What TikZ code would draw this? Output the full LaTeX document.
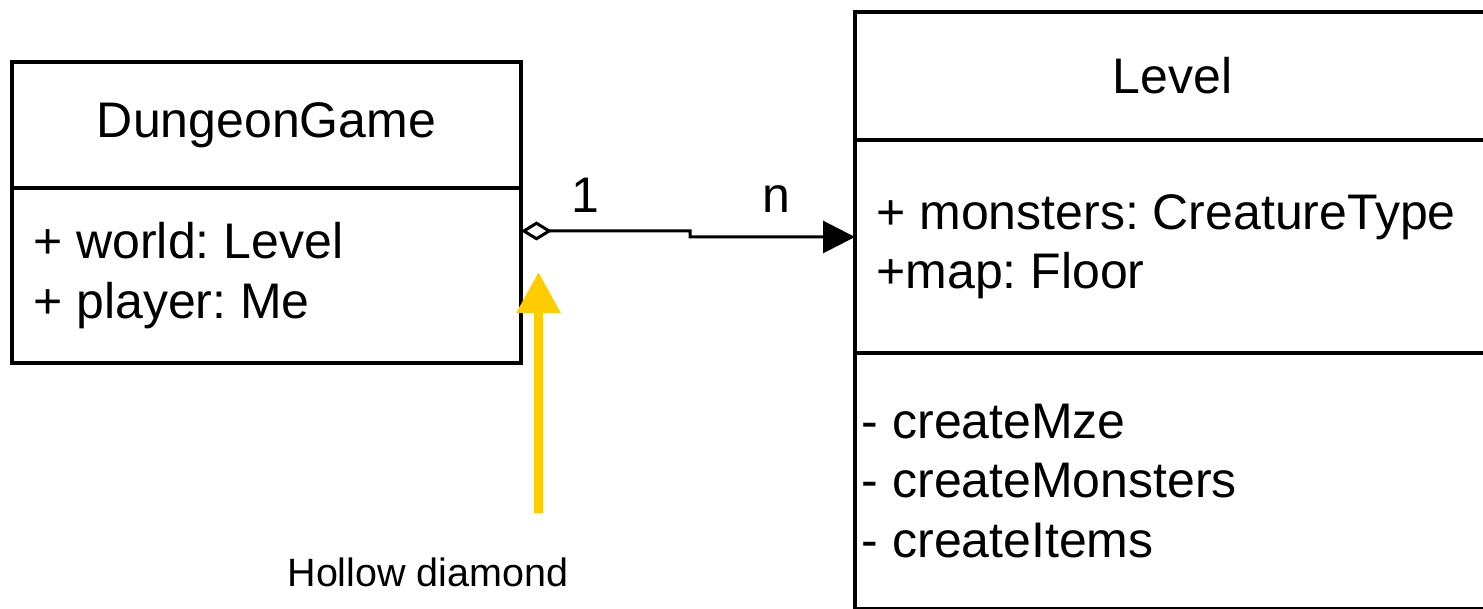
\documentclass[tikz,border=0pt]{standalone}
\usepackage{fontspec}
\setmainfont{Liberation Sans}
\usetikzlibrary{positioning, arrows.meta}
\definecolor{pointeryellow}{RGB}{255,204,0}
\frenchspacing

\begin{document}
\begin{tikzpicture}
\tikzstyle{compart} = [rectangle, draw=black, line width=0.07cm, outer sep=0pt, inner sep=0pt, font=\fontsize{1cm}{1.18cm}\selectfont]
\tikzstyle{members} = [inner sep=0pt, align=left, font=\fontsize{1cm}{1.19cm}\selectfont]
\tikzstyle{mult} = [inner sep=0pt, font=\fontsize{1cm}{1.2cm}\selectfont]
\tikzstyle{aggr} = [line width=0.06cm, arrows={Diamond[open, length=0.62cm, width=0.38cm]-Triangle[length=0.64cm, width=0.64cm]}]
\tikzstyle{pointer} = [line width=0.18cm, draw=pointeryellow, arrows={-Triangle[length=0.82cm, width=0.84cm]}]
\tikzstyle{caption} = [inner sep=0pt, font=\fontsize{0.79cm}{0.95cm}\selectfont]

\path [use as bounding box, clip] (0,0) rectangle (29.66,12.18);

%DungeonGame class
\node (DGhead) [compart, minimum width=10.18cm, minimum height=2.52cm] at (5.33,9.68) {DungeonGame};
\node (DGattr) [compart, minimum width=10.18cm, minimum height=3.5cm, below=0cm of DGhead] {};
\node (DGattrtext) [members, right=0.42cm of DGattr.west] {+ world: Level\\+ player: Me};

%Level class
\node (LVhead) [compart, minimum width=12.7cm, minimum height=2.56cm] at (23.45,10.66) {Level};
\node (LVattr) [compart, minimum width=12.7cm, minimum height=4.26cm, below=0cm of LVhead] {};
\node (LVops) [compart, minimum width=12.7cm, minimum height=5.12cm, below=0cm of LVattr] {};
\node (LVattrtext) [members, right=0.42cm of LVattr.west] {+ monsters: CreatureType\\+map: Floor};
\node (LVopstext) [members, right=0.13cm of LVops.west] {- createMze\\- createMonsters\\- createItems};

%aggregation with multiplicities
\coordinate (aggrstart) at ([yshift=0.89cm]DGattr.east);
\coordinate (aggrend) at ([yshift=0.19cm]LVattr.west);
\draw [aggr] (aggrstart) -- ++(3.38,0) -- ++(0,-0.12) -- (aggrend);
\node (mulone) [mult, above right=0.36cm and 1.0cm of aggrstart] {1};
\node (mulmany) [mult, above left=0.48cm and 1.28cm of aggrend] {n};

%pointer and caption
\coordinate (pointtail) at (10.77,1.92);
\coordinate (pointtip) at (10.77,6.74);
\draw [pointer] (pointtail) -- (pointtip);
\node (captiontext) [caption] at (8.56,0.74) {Hollow diamond};
\end{tikzpicture}
\end{document}
